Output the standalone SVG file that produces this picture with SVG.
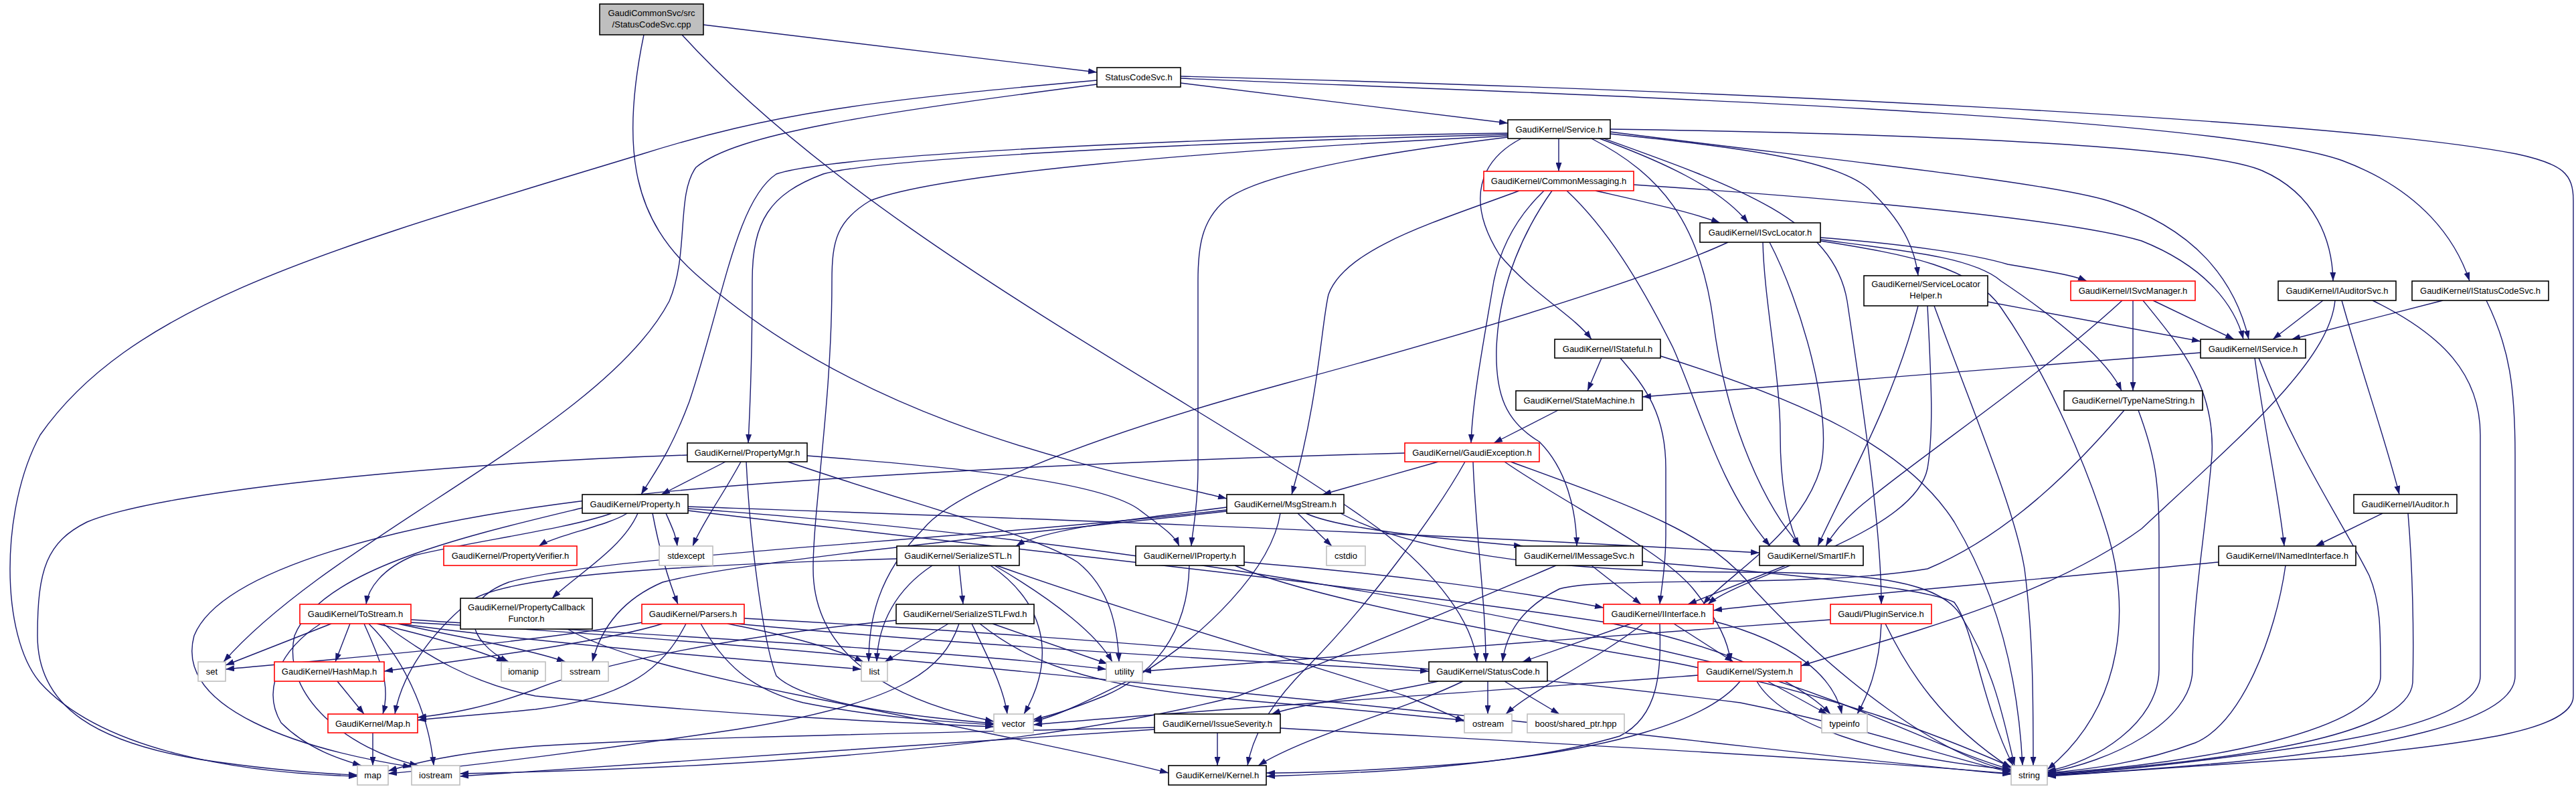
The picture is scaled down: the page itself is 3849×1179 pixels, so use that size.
<svg xmlns="http://www.w3.org/2000/svg" width="3849" height="1179" viewBox="0 0 3849 1179">
<style>
.node rect{fill:#fff;stroke:#000;stroke-width:1.6}
.red rect{stroke:#ff0000}
.sys rect{stroke:#bfbfbf}
.root rect{fill:#bfbfbf}
text{font-family:"Liberation Sans",Arial,Helvetica,sans-serif;font-size:13px;text-anchor:middle;fill:#000}
#edges path{fill:none;stroke:#191970;stroke-width:1.4;marker-end:url(#arr)}
</style>
<defs>
<marker id="arr" markerUnits="userSpaceOnUse" markerWidth="13" markerHeight="9" viewBox="0 0 13 9" refX="13" refY="4.5" orient="auto"><path d="M0,0L13,4.5L0,9z" fill="#191970"/></marker>
</defs>
<rect width="3849" height="1179" fill="#fff"/>
<g id="edges">
<path d="M1051,37 L1639,108"/>
<path d="M962,52 C925,230 950,330 1040,410 C1300,640 1650,700 1833,745"/>
<path d="M1019,52 C1300,360 1800,600 2060,790 C2150,860 2200,930 2207,989"/>
<path d="M1764,124 L2253,184"/>
<path d="M1764,117 C2300,140 3300,170 3500,240 C3620,285 3670,360 3690,420"/>
<path d="M1764,114 C2600,135 3500,180 3760,230 C3830,245 3845,260 3845,300 L3845,1040 C3845,1090 3700,1110 3500,1130 C3300,1145 3150,1155 3059,1160"/>
<path d="M1639,126 C1300,170 1100,200 1040,250 C1010,290 1030,380 1000,450 C900,640 500,800 334,989"/>
<path d="M1639,120 C1300,150 1150,170 960,230 C500,370 200,450 60,650 C0,760 0,950 60,1020 C150,1120 350,1155 534,1160"/>
<path d="M2406,197 C2700,235 3050,270 3150,300 C3280,340 3340,420 3360,507"/>
<path d="M2406,193 C2900,200 3300,220 3380,255 C3460,290 3485,360 3486,420"/>
<path d="M2406,200 C2600,220 2760,240 2800,290 C2850,340 2862,380 2866,412"/>
<path d="M2329,207 L2329,256"/>
<path d="M2390,207 C2480,240 2570,280 2612,333"/>
<path d="M2273,207 C2210,240 2190,300 2240,380 C2290,440 2350,470 2378,507"/>
<path d="M2378,207 C2480,260 2540,330 2560,480 C2580,640 2640,760 2690,816"/>
<path d="M2396,207 C2600,280 2740,330 2760,450 C2790,650 2811,800 2811,903"/>
<path d="M2253,199 C1800,205 1250,230 1160,260 C1100,300 1080,450 1030,600 C1000,680 975,710 958,739"/>
<path d="M2253,201 C1700,215 1300,240 1230,260 C1150,290 1124,330 1124,420 C1124,550 1120,620 1118,662"/>
<path d="M2253,203 C1800,225 1400,260 1300,300 C1250,330 1243,360 1243,420 C1243,600 1215,760 1215,850 C1215,960 1300,1040 1485,1078"/>
<path d="M2253,205 C2050,230 1880,260 1830,300 C1795,330 1790,370 1790,420 L1790,700 C1790,760 1782,790 1780,816"/>
<path d="M2270,285 C2150,330 2010,370 1985,440 C1975,480 1970,600 1930,739"/>
<path d="M2307,285 C2260,330 2240,380 2232,420 C2215,520 2200,600 2198,662"/>
<path d="M2319,285 C2280,340 2240,420 2236,520 C2234,590 2250,630 2300,660 C2340,700 2355,760 2356,816"/>
<path d="M2341,285 C2400,340 2450,420 2500,520 C2540,610 2570,730 2645,816"/>
<path d="M2384,285 C2450,300 2520,315 2570,333"/>
<path d="M2441,276 C2800,300 3100,330 3200,360 C3300,400 3340,460 3352,507"/>
<path d="M2582,362 C2500,400 2300,470 1920,573 C1600,660 1420,740 1380,790 C1310,860 1298,930 1298,989"/>
<path d="M2634,362 C2636,450 2660,560 2660,650 C2660,720 2670,780 2688,816"/>
<path d="M2644,362 C2690,450 2740,620 2720,700 C2690,800 2580,860 2545,903"/>
<path d="M2720,355 C2850,365 2950,380 3000,395 C3060,405 3100,412 3118,420"/>
<path d="M2720,358 C2850,375 2950,385 2990,420 C3080,480 3150,540 3170,584"/>
<path d="M2720,360 C2850,380 2950,400 2990,460 C3060,560 3120,700 3150,800 C3180,900 3180,1050 3059,1150"/>
<path d="M2970,451 L3288,510"/>
<path d="M2866,457 C2830,600 2760,720 2716,816"/>
<path d="M2880,457 C2885,560 2890,640 2880,700 C2860,800 2600,860 2552,903"/>
<path d="M2890,457 C2950,620 3010,760 3025,850 C3038,950 3038,1050 3038,1144"/>
<path d="M3217,449 L3338,507"/>
<path d="M3187,449 L3187,584"/>
<path d="M3171,449 C3050,560 2900,660 2800,740 C2760,770 2740,795 2728,816"/>
<path d="M3202,449 C3260,520 3310,580 3305,680 C3295,800 3276,900 3276,1000 C3276,1080 3150,1140 3059,1154"/>
<path d="M3471,449 L3396,507"/>
<path d="M3489,449 C3480,540 3350,650 3200,790 C3050,900 2800,960 2691,995"/>
<path d="M3499,449 C3530,560 3565,660 3585,739"/>
<path d="M3545,449 C3650,500 3706,560 3706,650 L3706,1010 C3706,1080 3500,1110 3300,1135 C3180,1150 3100,1156 3059,1158"/>
<path d="M3650,449 L3424,507"/>
<path d="M3715,449 C3750,520 3758,580 3758,680 L3758,1010 C3758,1080 3550,1120 3300,1142 C3180,1152 3100,1157 3059,1159"/>
<path d="M3288,527 L2454,593"/>
<path d="M3369,535 C3385,650 3405,740 3413,816"/>
<path d="M3375,535 C3430,680 3500,780 3540,860 C3557,900 3557,940 3557,1010 C3557,1090 3300,1140 3059,1156"/>
<path d="M3315,840 C3000,870 2700,895 2560,912"/>
<path d="M3415,845 C3400,950 3350,1080 3280,1110 C3200,1140 3120,1150 3059,1155"/>
<path d="M3560,767 L3460,816"/>
<path d="M3598,767 C3605,850 3607,950 3605,1020 C3600,1090 3400,1125 3200,1145 C3130,1152 3090,1156 3059,1157"/>
<path d="M3174,613 C3100,700 3000,800 2880,850 C2700,880 2400,860 2330,880 C2270,910 2250,950 2245,989"/>
<path d="M3195,613 C3220,680 3226,720 3226,800 L3226,1000 C3226,1080 3130,1140 3059,1152"/>
<path d="M2393,535 L2372,584"/>
<path d="M2421,535 C2460,580 2489,620 2489,700 L2489,800 C2489,850 2482,880 2480,903"/>
<path d="M2481,532 C2700,600 2850,670 2920,780 C2980,880 3015,1000 3022,1144"/>
<path d="M2328,613 L2232,662"/>
<path d="M2149,690 L1976,739"/>
<path d="M2099,677 C1600,690 1100,720 900,745 C600,780 330,850 290,950 C260,1060 450,1120 615,1146"/>
<path d="M2189,690 C2150,760 2050,900 1950,1000 C1890,1060 1870,1110 1864,1144"/>
<path d="M2201,690 C2205,800 2220,900 2220,989"/>
<path d="M2248,690 C2350,760 2480,820 2530,880 C2570,930 2582,960 2586,989"/>
<path d="M2257,690 C2450,760 2560,800 2620,880 C2750,1020 2900,1130 3005,1152"/>
<path d="M1951,767 C2000,790 2150,805 2275,816"/>
<path d="M1939,767 L1990,816"/>
<path d="M1833,758 C1700,775 1560,790 1518,816"/>
<path d="M1833,762 C1400,810 900,830 760,870 C680,900 700,960 760,989"/>
<path d="M1833,764 C1500,800 1100,840 990,870 C920,900 895,950 885,989"/>
<path d="M1913,767 C1900,850 1800,950 1700,1010 C1620,1050 1580,1070 1544,1078"/>
<path d="M2003,767 C2100,820 2300,855 2600,855 C2800,855 2900,870 2930,920 C2980,1000 2995,1080 3010,1144"/>
<path d="M2378,845 L2452,903"/>
<path d="M2325,845 C2150,920 1980,990 1850,1040 C1500,1130 1000,1150 687,1156"/>
<path d="M2454,839 C2700,860 2880,880 2920,900 C2950,940 2960,1050 3008,1144"/>
<path d="M2668,845 L2522,903"/>
<path d="M2437,932 L2275,989"/>
<path d="M2455,932 C2380,990 2290,1030 2250,1067"/>
<path d="M2480,932 C2482,1000 2480,1070 2420,1100 C2250,1150 2000,1156 1892,1160"/>
<path d="M2501,932 L2590,989"/>
<path d="M2560,928 C2680,960 2740,1010 2752,1067"/>
<path d="M2223,1018 L2223,1067"/>
<path d="M2248,1018 L2330,1067"/>
<path d="M2186,1018 C2100,1060 1950,1100 1880,1144"/>
<path d="M2149,1018 C2050,1040 1950,1050 1900,1067"/>
<path d="M1819,1095 L1819,1144"/>
<path d="M1725,1087 C1400,1095 1000,1102 800,1115 C680,1125 620,1140 580,1152"/>
<path d="M1725,1090 C1400,1110 1000,1140 687,1160"/>
<path d="M1913,1088 C2300,1110 2700,1130 3005,1156"/>
<path d="M2600,1018 C2550,1080 2400,1120 2200,1140 C2050,1152 1950,1155 1892,1155"/>
<path d="M2625,1018 C2660,1080 2800,1130 3005,1150"/>
<path d="M2641,1018 L2730,1067"/>
<path d="M2537,1009 C2200,1035 1800,1060 1544,1083"/>
<path d="M2735,926 C2300,960 1900,990 1707,1003"/>
<path d="M2811,932 C2808,1000 2790,1040 2775,1067"/>
<path d="M2817,932 C2850,1000 2900,1080 3005,1148"/>
<path d="M1859,840 C2050,855 2250,880 2396,908"/>
<path d="M1777,845 C1775,950 1720,1010 1650,1040 C1600,1060 1570,1070 1544,1075"/>
<path d="M1845,845 C1950,890 2200,940 2500,990 C2750,1040 2900,1100 3005,1146"/>
<path d="M1084,690 L988,739"/>
<path d="M1027,680 C700,690 250,730 130,780 C70,810 56,850 56,950 C56,1060 150,1110 300,1135 C400,1150 480,1156 534,1158"/>
<path d="M1107,690 C1080,740 1050,780 1035,816"/>
<path d="M1115,690 C1120,800 1140,960 1160,1010 C1200,1050 1350,1070 1485,1081"/>
<path d="M1177,690 C1350,750 1550,800 1610,840 C1660,880 1670,940 1672,989"/>
<path d="M1206,681 C1450,700 1640,720 1700,760 C1740,790 1755,800 1762,816"/>
<path d="M937,767 C910,785 830,800 805,816"/>
<path d="M953,767 C930,820 860,860 825,894"/>
<path d="M975,767 C985,820 1000,870 1013,903"/>
<path d="M995,767 C1005,790 1010,800 1012,816"/>
<path d="M914,767 C850,790 700,810 619,830 C570,850 550,880 547,903"/>
<path d="M870,759 C700,800 480,850 440,950 C420,1040 520,1120 625,1144"/>
<path d="M1028,757 C1400,770 2000,790 2629,826"/>
<path d="M1028,760 C1600,800 2200,900 2600,1000 C2800,1060 2900,1120 3005,1150"/>
<path d="M1028,763 C1500,820 2000,870 2400,930 C2600,970 2700,1030 2735,1067"/>
<path d="M479,932 C420,970 390,1030 420,1080 C460,1120 510,1135 540,1144"/>
<path d="M495,932 L337,994"/>
<path d="M523,932 L501,989"/>
<path d="M544,932 C565,980 585,1020 572,1067"/>
<path d="M551,932 C600,980 640,1060 648,1144"/>
<path d="M563,932 C640,950 710,970 755,989"/>
<path d="M594,932 C700,955 790,970 845,989"/>
<path d="M572,932 C640,980 700,1020 800,1040 C1100,1070 1350,1080 1485,1086"/>
<path d="M597,932 C800,960 1100,985 1287,1000"/>
<path d="M612,930 C1000,950 1500,1000 2000,1050 C2500,1100 2800,1140 3005,1157"/>
<path d="M614,926 C900,945 1400,970 1653,1000"/>
<path d="M960,930 C800,960 500,985 337,1000"/>
<path d="M990,932 C900,960 700,985 574,1003"/>
<path d="M1025,932 C1000,980 960,1040 800,1060 C720,1068 660,1072 624,1076"/>
<path d="M1087,932 C1180,950 1250,970 1290,989"/>
<path d="M1047,932 C1080,990 1120,1030 1200,1050 C1300,1070 1400,1078 1485,1083"/>
<path d="M1112,924 C1600,950 2200,1000 2600,1050 C2800,1090 2900,1130 3005,1154"/>
<path d="M1100,932 C1400,960 1800,985 2135,1003"/>
<path d="M848,940 C900,970 1000,1000 1200,1040 C1450,1090 1650,1130 1746,1155"/>
<path d="M1433,845 L1439,903"/>
<path d="M1393,845 C1340,880 1312,930 1310,989"/>
<path d="M1480,845 C1560,900 1580,980 1530,1067"/>
<path d="M1486,845 C1580,900 1640,950 1662,989"/>
<path d="M1489,845 C1700,920 1950,990 2100,1040 C2150,1060 2170,1070 2188,1078"/>
<path d="M1340,835 C1000,845 750,860 700,900 C640,950 600,1010 590,1067"/>
<path d="M1417,932 L1322,989"/>
<path d="M1452,932 C1480,990 1500,1030 1505,1067"/>
<path d="M1483,932 L1655,992"/>
<path d="M1433,932 C1410,1000 1350,1050 1100,1090 C900,1120 700,1145 580,1156"/>
<path d="M1464,932 C1550,1000 1650,1030 1900,1050 C2050,1062 2130,1072 2188,1076"/>
<path d="M1339,927 C1100,950 900,990 800,1030 C720,1060 660,1068 624,1072"/>
<path d="M504,1018 L544,1067"/>
<path d="M557,1095 L557,1144"/>
</g>
<g id="n_cpp" class="node root"><rect x="896" y="6" width="155" height="46"/><text x="973.5" y="24">GaudiCommonSvc/src</text><text x="973.5" y="41">/StatusCodeSvc.cpp</text></g>
<g id="n_statuscodesvc_h" class="node"><rect x="1639" y="101" width="125" height="29"/><text x="1701.5" y="120">StatusCodeSvc.h</text></g>
<g id="n_service" class="node"><rect x="2253" y="179" width="153" height="28"/><text x="2329.5" y="198">GaudiKernel/Service.h</text></g>
<g id="n_commonmessaging" class="node red"><rect x="2217" y="256" width="224" height="29"/><text x="2329" y="275">GaudiKernel/CommonMessaging.h</text></g>
<g id="n_isvclocator" class="node"><rect x="2540" y="333" width="180" height="29"/><text x="2630" y="352">GaudiKernel/ISvcLocator.h</text></g>
<g id="n_istateful" class="node"><rect x="2323" y="507" width="158" height="28"/><text x="2402" y="526">GaudiKernel/IStateful.h</text></g>
<g id="n_statemachine" class="node"><rect x="2265" y="584" width="189" height="29"/><text x="2359.5" y="603">GaudiKernel/StateMachine.h</text></g>
<g id="n_gaudiexception" class="node red"><rect x="2099" y="662" width="201" height="28"/><text x="2199.5" y="681">GaudiKernel/GaudiException.h</text></g>
<g id="n_msgstream" class="node"><rect x="1833" y="739" width="175" height="28"/><text x="1920.5" y="758">GaudiKernel/MsgStream.h</text></g>
<g id="n_servicelocatorhelper" class="node"><rect x="2785" y="412" width="185" height="45"/><text x="2877.5" y="429">GaudiKernel/ServiceLocator</text><text x="2877.5" y="446">Helper.h</text></g>
<g id="n_isvcmanager" class="node red"><rect x="3094" y="420" width="186" height="29"/><text x="3187" y="439">GaudiKernel/ISvcManager.h</text></g>
<g id="n_iauditorsvc" class="node"><rect x="3404" y="420" width="176" height="29"/><text x="3492" y="439">GaudiKernel/IAuditorSvc.h</text></g>
<g id="n_istatuscodesvc" class="node"><rect x="3604" y="420" width="204" height="29"/><text x="3706" y="439">GaudiKernel/IStatusCodeSvc.h</text></g>
<g id="n_iservice" class="node"><rect x="3288" y="507" width="157" height="28"/><text x="3366.5" y="526">GaudiKernel/IService.h</text></g>
<g id="n_typenamestring" class="node"><rect x="3084" y="584" width="207" height="29"/><text x="3187.5" y="603">GaudiKernel/TypeNameString.h</text></g>
<g id="n_iauditor" class="node"><rect x="3517" y="739" width="154" height="28"/><text x="3594" y="758">GaudiKernel/IAuditor.h</text></g>
<g id="n_inamedinterface" class="node"><rect x="3315" y="816" width="205" height="29"/><text x="3417.5" y="835">GaudiKernel/INamedInterface.h</text></g>
<g id="n_string" class="node sys"><rect x="3005" y="1144" width="54" height="29"/><text x="3032" y="1163">string</text></g>
<g id="n_propertymgr" class="node"><rect x="1027" y="662" width="179" height="28"/><text x="1116.5" y="681">GaudiKernel/PropertyMgr.h</text></g>
<g id="n_property" class="node"><rect x="870" y="739" width="158" height="28"/><text x="949" y="758">GaudiKernel/Property.h</text></g>
<g id="n_propertyverifier" class="node red"><rect x="663" y="816" width="199" height="29"/><text x="762.5" y="835">GaudiKernel/PropertyVerifier.h</text></g>
<g id="n_tostream" class="node red"><rect x="448" y="903" width="166" height="29"/><text x="531" y="922">GaudiKernel/ToStream.h</text></g>
<g id="n_propertycallbackfunctor" class="node"><rect x="688" y="894" width="197" height="46"/><text x="786.5" y="912">GaudiKernel/PropertyCallback</text><text x="786.5" y="929">Functor.h</text></g>
<g id="n_set" class="node sys"><rect x="296" y="989" width="41" height="29"/><text x="316.5" y="1008">set</text></g>
<g id="n_hashmap" class="node red"><rect x="410" y="989" width="164" height="29"/><text x="492" y="1008">GaudiKernel/HashMap.h</text></g>
<g id="n_iomanip" class="node sys"><rect x="749" y="989" width="66" height="29"/><text x="782" y="1008">iomanip</text></g>
<g id="n_sstream" class="node sys"><rect x="839" y="989" width="70" height="29"/><text x="874" y="1008">sstream</text></g>
<g id="n_map_h" class="node red"><rect x="490" y="1067" width="134" height="28"/><text x="557" y="1086">GaudiKernel/Map.h</text></g>
<g id="n_map" class="node sys"><rect x="534" y="1144" width="46" height="29"/><text x="557" y="1163">map</text></g>
<g id="n_iostream" class="node sys"><rect x="615" y="1144" width="72" height="29"/><text x="651" y="1163">iostream</text></g>
<g id="n_parsers" class="node red"><rect x="959" y="903" width="153" height="29"/><text x="1035.5" y="922">GaudiKernel/Parsers.h</text></g>
<g id="n_stdexcept" class="node sys"><rect x="985" y="816" width="80" height="29"/><text x="1025" y="835">stdexcept</text></g>
<g id="n_serializestl" class="node"><rect x="1340" y="816" width="183" height="29"/><text x="1431.5" y="835">GaudiKernel/SerializeSTL.h</text></g>
<g id="n_iproperty" class="node"><rect x="1697" y="816" width="162" height="29"/><text x="1778" y="835">GaudiKernel/IProperty.h</text></g>
<g id="n_serializestlfwd" class="node"><rect x="1339" y="903" width="206" height="29"/><text x="1442" y="922">GaudiKernel/SerializeSTLFwd.h</text></g>
<g id="n_list" class="node sys"><rect x="1287" y="989" width="39" height="29"/><text x="1306.5" y="1008">list</text></g>
<g id="n_utility" class="node sys"><rect x="1653" y="989" width="54" height="29"/><text x="1680" y="1008">utility</text></g>
<g id="n_vector" class="node sys"><rect x="1485" y="1067" width="59" height="28"/><text x="1514.5" y="1086">vector</text></g>
<g id="n_issueseverity" class="node"><rect x="1725" y="1067" width="188" height="28"/><text x="1819" y="1086">GaudiKernel/IssueSeverity.h</text></g>
<g id="n_kernel" class="node"><rect x="1746" y="1144" width="146" height="29"/><text x="1819" y="1163">GaudiKernel/Kernel.h</text></g>
<g id="n_cstdio" class="node sys"><rect x="1982" y="816" width="58" height="29"/><text x="2011" y="835">cstdio</text></g>
<g id="n_imessagesvc" class="node"><rect x="2265" y="816" width="189" height="29"/><text x="2359.5" y="835">GaudiKernel/IMessageSvc.h</text></g>
<g id="n_smartif" class="node"><rect x="2629" y="816" width="155" height="29"/><text x="2706.5" y="835">GaudiKernel/SmartIF.h</text></g>
<g id="n_iinterface" class="node red"><rect x="2396" y="903" width="164" height="29"/><text x="2478" y="922">GaudiKernel/IInterface.h</text></g>
<g id="n_pluginservice" class="node red"><rect x="2735" y="903" width="151" height="29"/><text x="2810.5" y="922">Gaudi/PluginService.h</text></g>
<g id="n_statuscode" class="node"><rect x="2135" y="989" width="177" height="29"/><text x="2223.5" y="1008">GaudiKernel/StatusCode.h</text></g>
<g id="n_system" class="node red"><rect x="2537" y="989" width="154" height="29"/><text x="2614" y="1008">GaudiKernel/System.h</text></g>
<g id="n_ostream" class="node sys"><rect x="2188" y="1067" width="71" height="28"/><text x="2223.5" y="1086">ostream</text></g>
<g id="n_boost" class="node sys"><rect x="2282" y="1067" width="145" height="28"/><text x="2354.5" y="1086">boost/shared_ptr.hpp</text></g>
<g id="n_typeinfo" class="node sys"><rect x="2722" y="1067" width="68" height="28"/><text x="2756" y="1086">typeinfo</text></g>
</svg>
